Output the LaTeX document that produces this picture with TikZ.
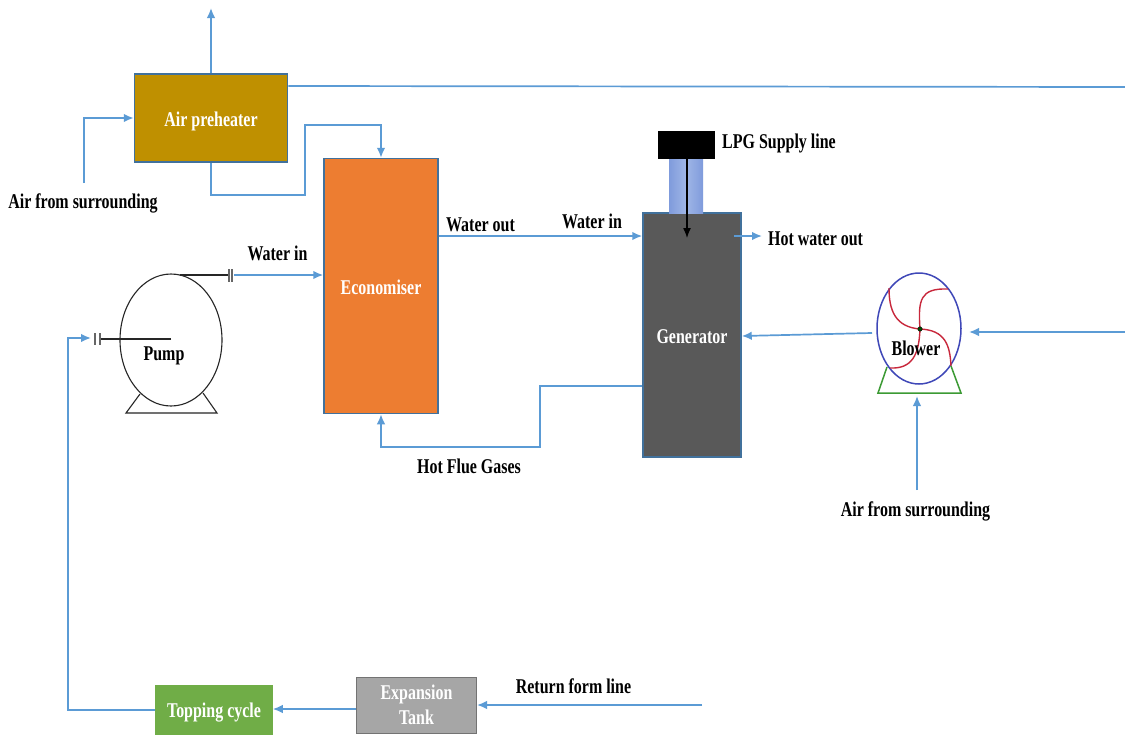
\documentclass[tikz,border=0pt]{standalone}
\usepackage{fontspec}
\setmainfont[FakeStretch=0.76]{Liberation Serif}
\usetikzlibrary{arrows.meta,shapes.geometric}
\definecolor{flow}{HTML}{5B9BD5}
\definecolor{edgeblue}{HTML}{41719C}
\definecolor{preheat}{HTML}{BF9000}
\definecolor{econ}{HTML}{ED7D31}
\definecolor{genfill}{HTML}{595959}
\definecolor{topfill}{HTML}{70AD47}
\definecolor{lpgdark}{HTML}{7F9BDC}
\definecolor{lpglight}{HTML}{A0B6E6}
\definecolor{blowblue}{HTML}{3F48B8}
\definecolor{blowred}{HTML}{C8283C}
\definecolor{blowgreen}{HTML}{3C9A34}
\tikzset{
 x=1pt,y=-1pt,
 flowline/.style={draw=flow,line width=1.7pt},
 flowarrow/.style={flowline,-{Latex[length=10pt,width=8.5pt]}},
 lab/.style={font=\fontsize{21}{24}\selectfont\bfseries,text=black,inner sep=0pt,align=center,yshift=-1pt},
 unit/.style={draw=edgeblue,line width=1.5pt,inner sep=0pt,font=\fontsize{21}{24}\selectfont\bfseries,text=white,align=center},
 unitone/.style={unit,text height=16pt,text depth=0pt},
 pipe/.style={draw=black!85,line width=1.1pt},
 flange/.style={draw=black!60,line width=1.1pt},
}
\begin{document}
\begin{tikzpicture}
\useasboundingbox[fill=white] (0,0) rectangle (1125,734);
% units
\node[unitone,fill=preheat,minimum width=153pt,minimum height=88pt] (pre) at (211,118) {Air preheater};
\node[unitone,fill=econ,minimum width=114pt,minimum height=255pt] (eco) at (381,286) {Economiser};
\node[unitone,fill=genfill,minimum width=98pt,minimum height=244pt] (gen) at (692,335) {Generator};
\node[unitone,draw=topfill,fill=topfill,line width=0.5pt,minimum width=117pt,minimum height=49pt] (top) at (214,709.5) {Topping cycle};
\node[unit,draw=black!55,fill=black!35,line width=1pt,font=\fontsize{21}{25}\selectfont\bfseries,minimum width=120pt,minimum height=56pt] (exp) at (416.5,705) {Expansion\\Tank};
% LPG
\node[inner sep=0pt,minimum width=34pt,minimum height=54pt,left color=lpgdark,right color=lpgdark,middle color=lpglight] (lpgpipe) at (686,186) {};
\node[fill=black,inner sep=0pt,minimum width=57pt,minimum height=28pt] (lpg) at (686,145) {};
\coordinate (lpgend) at (687,238);
\draw[black,line width=1.3pt,-{Latex[length=10pt,width=8pt]}] (lpgend |- lpg.south) -- (lpgend);
% pump
\node[pipe,ellipse,fill=white,inner sep=0pt,minimum width=102pt,minimum height=132pt] (pump) at (171,340) {};
\coordinate (pa) at (140,394); \coordinate (pb) at (126,413); \coordinate (pc) at (217,413); \coordinate (pd) at (203,393);
\draw[pipe] (pa) -- (pb) -- (pc) -- (pd);
\coordinate (pt) at (180,275); \coordinate (ptf) at (229,275); \coordinate (ptg) at (232,275);
\draw[pipe] (pt) -- (ptf);
\draw[flange] (229,269) -- (229,282) (232,269) -- (232,282);
\coordinate (pl) at (171,339); \coordinate (plf) at (100,339); \coordinate (plg) at (95,339);
\draw[pipe] (pl) -- (plf);
\draw[flange] (100,333) -- (100,345) (95,333) -- (95,345);
\node[lab] (pumplab) at (164,355) {Pump};
% blower
\node[ellipse,draw=blowblue,line width=1.5pt,inner sep=0pt,minimum width=84pt,minimum height=111pt] (blow) at (919,328.5) {};
\coordinate (bh) at (920,329);
\draw[blowred,line width=1.4pt]
 (bh) .. controls (895,327) and (889,310) .. (889,288)
 (bh) .. controls (918,300) and (920,288) .. (948,289)
 (bh) .. controls (945,330) and (950,345) .. (951,366)
 (bh) .. controls (919,355) and (912,369) .. (890,368);
\draw[blowgreen,line width=1.5pt] (887,367) -- (878,393) -- (961,393) -- (951,366);
\node[circle,fill=black!70!green,draw=black,inner sep=0pt,minimum size=4.5pt] (hub) at (bh) {};
\node[lab] (blowlab) at (916,347) {Blower};
\coordinate (blowbase) at (917,396);
% free ends
\coordinate (preup) at (211,8);
\coordinate (topright) at (1125,87);
\coordinate (airstart) at (84,183);
\coordinate (blowin) at (969,332);
\coordinate (rightin) at (1125,332);
\coordinate (blowout) at (872,333);
\coordinate (airb) at (917,490);
\coordinate (ret) at (702,705);
\coordinate (hot) at (762,236);
% connectors
\draw[flowarrow] (pre.north) -- (preup);
\draw[flowline] (pre.east |- 0,86) -- (topright);
\draw[flowarrow] (airstart) |- (pre.west);
\draw[flowarrow] (pre.south) -- (211,195) -- (305,195) -- (305,125) -- (381,125) -- (eco.north);
\draw[flowarrow] (ptg) ++(2,0) -- (eco.west |- ptg);
\draw[flowarrow] (eco.east |- 0,236) -- (gen.west |- 0,236);
\draw[flowarrow] (gen.west |- 0,386) -- (540,386) -- (540,447) -- (381,447) -- (eco.south);
\draw[flowarrow] (gen.east |- 0,236) ++(-8,0) -- (hot);
\draw[flowarrow] (blowout) -- (gen.east |- 0,336);
\draw[flowarrow] (rightin) -- (blowin);
\draw[flowarrow] (airb) -- (blowbase);
\draw[flowarrow] (ret) -- (exp.east |- ret);
\draw[flowarrow] (exp.west |- 0,709) -- (top.east |- 0,709);
\draw[flowarrow] (top.west |- 0,710) -- (68,710) -- (68,338) -- (91,338);
% labels
\node[lab] (l1) at (83,202) {Air from surrounding};
\node[lab,anchor=west] (l2) at (722,142) {LPG Supply line};
\node[lab] (l3) at (277.5,252) {Water in};
\node[lab] (l4) at (480.5,224) {Water out};
\node[lab] (l5) at (592,220) {Water in};
\node[lab,anchor=west] (l6) at (768,238) {Hot water out};
\node[lab] (l7) at (469,465) {Hot Flue Gases};
\node[lab] (l8) at (915.5,510) {Air from surrounding};
\node[lab] (l9) at (573.5,685) {Return form line};
\end{tikzpicture}
\end{document}
